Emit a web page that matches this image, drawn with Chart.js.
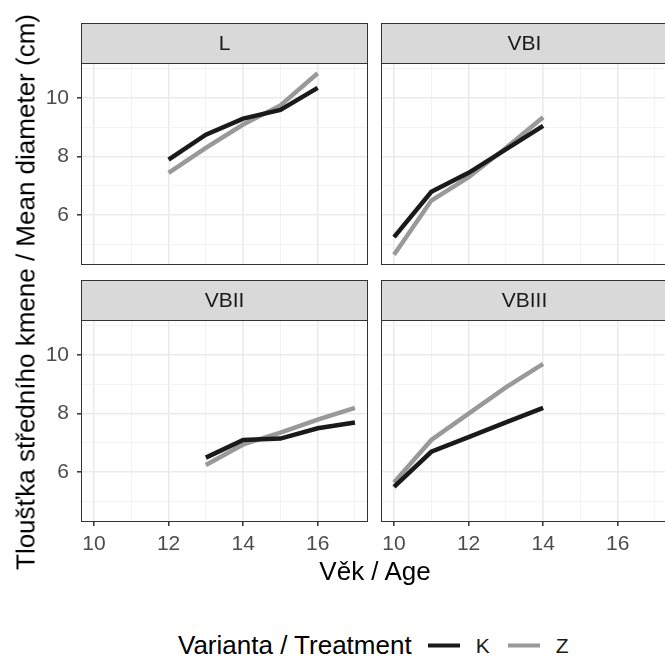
<!DOCTYPE html>
<html>
<head>
<meta charset="utf-8">
<script src="https://cdn.jsdelivr.net/npm/chart.js@4/dist/chart.umd.min.js"></script>
<style>
  body { margin: 0; background: #fff; }
  #wrap { position: relative; width: 665px; height: 656px; overflow: hidden; font-family: "Liberation Sans", Arial, sans-serif; }
  #wrap canvas { position: absolute; }
  .ytitle { position: absolute; left: 26px; top: 292px; transform: translate(-50%, -50%) rotate(-90deg); white-space: nowrap; font-size: 26px; color: #000; }
  .xtitle { position: absolute; left: 375px; top: 571px; transform: translate(-50%, -50%); white-space: nowrap; font-size: 26px; color: #000; }
  .legend { position: absolute; left: 178px; top: 645px; transform: translateY(-50%); display: flex; align-items: center; white-space: nowrap; }
  .legend .ttl { font-size: 26px; color: #000; margin-right: 16px; }
  .legend .key { width: 32px; height: 4px; margin-right: 16px; }
  .legend .lab { font-size: 21px; color: #1a1a1a; margin-right: 18px; }
</style>
</head>
<body>
<div id="wrap">
  <canvas id="pL" width="372" height="300" style="left:0;top:0"></canvas>
  <canvas id="pVBI" width="296" height="300" style="left:376px;top:0"></canvas>
  <canvas id="pVBII" width="372" height="300" style="left:0;top:260px"></canvas>
  <canvas id="pVBIII" width="296" height="300" style="left:376px;top:260px"></canvas>
  <div class="ytitle">Tloušťka středního kmene / Mean diameter (cm)</div>
  <div class="xtitle">Věk / Age</div>
  <div class="legend">
    <span class="ttl">Varianta / Treatment</span>
    <span class="key" style="background:#1a1a1a"></span><span class="lab">K</span>
    <span class="key" style="background:#999999"></span><span class="lab">Z</span>
  </div>
</div>
<script>
// panels (facets) and their values
const agesL = [12, 13, 14, 15, 16];
const kL = [7.9, 8.75, 9.3, 9.6, 10.35];
const zL = [7.45, 8.3, 9.1, 9.75, 10.85];

const agesVBI = [10, 11, 12, 13, 14];
const kVBI = [5.25, 6.8, 7.45, 8.25, 9.05];
const zVBI = [4.65, 6.5, 7.3, 8.3, 9.35];

const agesVBII = [13, 14, 15, 16, 17];
const kVBII = [6.5, 7.1, 7.15, 7.5, 7.7];
const zVBII = [6.25, 6.95, 7.35, 7.8, 8.2];

const agesVBIII = [10, 11, 12, 13, 14];
const kVBIII = [5.5, 6.7, 7.2, 7.7, 8.2];
const zVBIII = [5.65, 7.1, 8.0, 8.9, 9.7];

// axis ticks (all integers get a grid line, labels only on even ones)
const xTicks = [10, 11, 12, 13, 14, 15, 16, 17];
const yTicks = [5, 6, 7, 8, 9, 10, 11];
const xRange = [9.65, 17.35];
const yRange = [4.3, 11.2];

const K_COLOR = '#1a1a1a';
const Z_COLOR = '#999999';
const FONT = '"Liberation Sans", Arial, sans-serif';

// strip on top + border all round, like ggplot's theme_bw facets
const panelDecor = {
    id: 'panelDecor',
    afterDraw(chart, args, opts) {
        const { ctx, chartArea: a } = chart;
        const h = 40;
        ctx.save();
        ctx.fillStyle = '#d9d9d9';
        ctx.fillRect(a.left, a.top - h, a.right - a.left, h);
        ctx.strokeStyle = '#333333';
        ctx.lineWidth = 1;
        ctx.strokeRect(a.left + 0.5, a.top - h + 0.5, a.right - a.left - 1, h);
        ctx.strokeRect(a.left + 0.5, a.top + 0.5, a.right - a.left - 1, a.bottom - a.top - 1);
        ctx.fillStyle = '#1a1a1a';
        ctx.font = '21px ' + FONT;
        ctx.textAlign = 'center';
        ctx.textBaseline = 'middle';
        ctx.fillText(opts.label, (a.left + a.right) / 2, a.top - h / 2 + 1);
        ctx.restore();
    }
};

const isMajor = v => v % 2 === 0;

function makePanel(id, label, ages, k, z, cfg) {
    const ctx = document.getElementById(id).getContext('2d');
    return new Chart(ctx, {
        type: 'line',
        data: {
            datasets: [
                { label: 'K', data: ages.map((a, i) => ({ x: a, y: k[i] })), borderColor: K_COLOR, borderWidth: 4.5 },
                { label: 'Z', data: ages.map((a, i) => ({ x: a, y: z[i] })), borderColor: Z_COLOR, borderWidth: 4.5 }
            ]
        },
        options: {
            responsive: false,
            animation: false,
            events: [],
            layout: { padding: { top: cfg.top, right: 4, bottom: cfg.bottom, left: 0 } },
            elements: { point: { radius: 0 }, line: { tension: 0, borderCapStyle: 'butt' } },
            plugins: { legend: { display: false }, tooltip: { enabled: false }, panelDecor: { label } },
            scales: {
                x: {
                    type: 'linear',
                    min: xRange[0], max: xRange[1],
                    afterBuildTicks: s => { s.ticks = xTicks.map(v => ({ value: v })); },
                    afterFit: s => { s.height = 30; },
                    border: { display: false },
                    grid: {
                        color: c => isMajor(c.tick.value) ? '#ebebeb' : '#f2f2f2',
                        lineWidth: c => isMajor(c.tick.value) ? 1.6 : 0.9,
                        drawTicks: cfg.xLabels,
                        tickLength: 4,
                        tickColor: c => isMajor(c.tick.value) ? '#333333' : 'rgba(0,0,0,0)',
                        tickWidth: 1.5
                    },
                    ticks: {
                        display: cfg.xLabels,
                        autoSkip: false,
                        maxRotation: 0,
                        padding: 6,
                        color: '#4d4d4d',
                        font: { family: FONT, size: 21 },
                        callback: v => isMajor(v) ? String(v) : ''
                    }
                },
                y: {
                    min: yRange[0], max: yRange[1],
                    afterBuildTicks: s => { s.ticks = yTicks.map(v => ({ value: v })); },
                    afterFit: s => { s.width = cfg.yw; },
                    border: { display: false },
                    grid: {
                        color: c => isMajor(c.tick.value) ? '#ebebeb' : '#f2f2f2',
                        lineWidth: c => isMajor(c.tick.value) ? 1.6 : 0.9,
                        drawTicks: cfg.yLabels,
                        tickLength: 4,
                        tickColor: c => isMajor(c.tick.value) ? '#333333' : 'rgba(0,0,0,0)',
                        tickWidth: 1.5
                    },
                    ticks: {
                        display: cfg.yLabels,
                        autoSkip: false,
                        padding: 8,
                        color: '#4d4d4d',
                        font: { family: FONT, size: 21 },
                        callback: v => isMajor(v) ? String(v) : ''
                    }
                }
            }
        },
        plugins: [panelDecor]
    });
}

// top row: plot area y 63..265, bottom row: y 320..522
makePanel('pL', 'L', agesL, kL, zL, { top: 63, bottom: 5, yw: 81, xLabels: false, yLabels: true });
makePanel('pVBI', 'VBI', agesVBI, kVBI, zVBI, { top: 63, bottom: 5, yw: 5, xLabels: false, yLabels: false });
makePanel('pVBII', 'VBII', agesVBII, kVBII, zVBII, { top: 60, bottom: 8, yw: 81, xLabels: true, yLabels: true });
makePanel('pVBIII', 'VBIII', agesVBIII, kVBIII, zVBIII, { top: 60, bottom: 8, yw: 5, xLabels: true, yLabels: false });
</script>
</body>
</html>
